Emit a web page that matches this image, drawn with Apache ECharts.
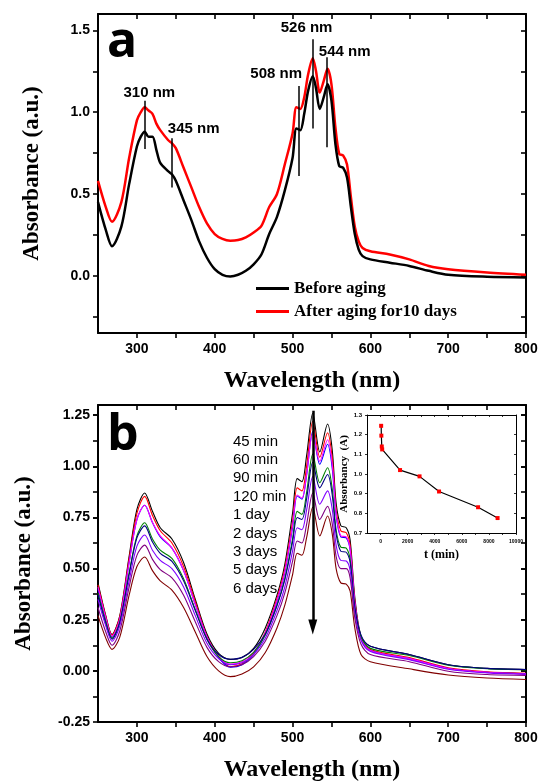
<!DOCTYPE html>
<html>
<head>
<meta charset="utf-8">
<script src="https://cdn.jsdelivr.net/npm/echarts@6/dist/echarts.min.js"></script>
<style>
  html, body { margin: 0; padding: 0; background: #fff; }
  #chart { width: 540px; height: 782px; }
</style>
</head>
<body>
<div id="chart"></div>
<script>
// panel a: spectra before / after aging
const wlA = [250,260,268,280,290,300,305,310,315,320,325,330,340,345,350,360,370,380,390,400,410,420,430,440,450,460,470,480,490,500,505,510,515,520,526,530,535,540,545,550,555,560,565,570,575,580,585,590,600,625,650,675,700,750,800];
const beforeAging = [.45,.28,.18,.30,.56,.79,.85,.88,.85,.85,.77,.69,.64,.62,.58,.46,.34,.21,.11,.04,.006,-.004,.006,.03,.07,.13,.255,.36,.52,.72,.90,.89,.99,1.13,1.22,1.15,1.02,1.09,1.17,1.07,.81,.67,.66,.60,.42,.255,.16,.12,.10,.08,.06,.03,.006,-.006,-.01];
const afterAging = [.58,.42,.33,.45,.72,.95,1.00,1.03,1.01,.99,.93,.89,.83,.81,.78,.66,.54,.42,.32,.255,.225,.214,.218,.235,.265,.305,.42,.50,.68,.87,1.03,1.02,1.09,1.23,1.33,1.255,1.12,1.19,1.265,1.17,.91,.745,.735,.68,.48,.30,.21,.17,.15,.13,.10,.06,.04,.02,.006];

// peak marks in panel a
const peakNm = [310, 345, 508, 526, 544];
const peakTop = [1.07, 0.84, 1.16, 1.445, 1.335];
const peakBottom = [0.775, 0.54, 0.61, 0.90, 0.785];
const peakText = ['310 nm', '345 nm', '508 nm', '526 nm', '544 nm'];
const peakTextNm = [316, 373, 479, 518, 567];
const peakTextVal = [1.12, 0.90, 1.235, 1.515, 1.367];

// panel b: spectra during aging
const wlB = [250,260,268,278,290,300,310,320,330,345,360,375,390,405,420,435,450,465,480,490,500,506,512,518,526,535,545,551,556,562,569,574,580,588,600,650,700,750,800];
const b45min = [.43,.27,.178,.27,.56,.79,.87,.78,.70,.645,.53,.35,.18,.085,.056,.065,.11,.21,.37,.52,.77,.94,.925,1.05,1.26,1.07,1.207,1.08,.82,.71,.70,.64,.36,.17,.12,.08,.03,.012,.007];
const b60min = [.42,.265,.175,.265,.55,.77,.853,.76,.685,.625,.51,.34,.17,.07,.02,.035,.085,.19,.355,.50,.73,.895,.88,1.00,1.22,1.045,1.164,1.04,.79,.685,.675,.615,.345,.16,.105,.065,.015,-.005,-.012];
const b90min = [.40,.25,.165,.25,.53,.74,.81,.725,.655,.60,.49,.325,.165,.065,.018,.03,.08,.18,.34,.48,.70,.855,.84,.955,1.17,1.01,1.108,.99,.76,.655,.65,.59,.33,.155,.10,.06,.012,-.007,-.014];
const b120min = [.41,.26,.17,.255,.53,.74,.81,.725,.66,.60,.49,.325,.165,.07,.033,.045,.09,.185,.345,.485,.71,.86,.845,.96,1.16,1.025,1.13,1.01,.77,.66,.655,.595,.335,.16,.10,.06,.012,-.007,-.015];
const b1day = [.38,.24,.16,.24,.48,.66,.724,.645,.59,.55,.45,.30,.155,.07,.04,.05,.09,.175,.32,.45,.645,.78,.765,.87,1.06,.92,.993,.89,.69,.605,.60,.545,.31,.165,.11,.075,.028,.01,.005];
const b2days = [.37,.23,.155,.235,.47,.65,.709,.63,.575,.535,.44,.295,.155,.08,.057,.066,.105,.18,.32,.445,.63,.75,.74,.84,1.02,.895,.96,.86,.67,.585,.58,.53,.31,.175,.12,.08,.03,.012,.007];
const b3days = [.35,.22,.145,.22,.44,.61,.664,.59,.54,.50,.41,.27,.135,.06,.03,.04,.08,.16,.295,.41,.585,.70,.69,.785,.95,.815,.88,.79,.615,.54,.537,.49,.28,.15,.095,.055,.008,-.01,-.017];
const b5days = [.31,.19,.125,.195,.41,.565,.615,.545,.495,.455,.37,.24,.115,.045,.02,.03,.07,.145,.27,.38,.535,.635,.625,.715,.87,.74,.805,.72,.56,.50,.50,.455,.26,.13,.08,.045,-.002,-.018,-.022];
const b6days = [.27,.16,.105,.165,.37,.51,.557,.49,.44,.395,.31,.19,.07,.00,-.028,-.015,.02,.09,.21,.32,.47,.575,.565,.65,.80,.66,.757,.67,.50,.43,.424,.39,.21,.08,.045,.01,-.02,-.035,-.042];
const namesB = ['45 min', '60 min', '90 min', '120 min', '1 day', '2 days', '3 days', '5 days', '6 days'];
const colorsB = ['#000000', '#ff0000', '#0000ff', '#ff00ff', '#008000', '#000080', '#8000ff', '#800080', '#800000'];

// inset: absorbancy vs time
const insetTime = [45, 60, 90, 120, 1440, 2880, 4320, 7200, 8640];
const insetAbs = [1.245, 1.195, 1.14, 1.125, 1.02, 0.988, 0.911, 0.831, 0.776];

// ticks
const xTicks = [300,350,400,450,500,550,600,650,700,750,800];
const xLabels = [300,400,500,600,700,800];
const yTicksA = [-0.25,0,0.25,0.5,0.75,1,1.25,1.5];
const yLabelsA = [0,0.5,1,1.5];
const yTicksB = [-0.125,0,0.125,0.25,0.375,0.5,0.625,0.75,0.875,1,1.125,1.25];
const yLabelsB = [-0.25,0,0.25,0.5,0.75,1,1.25];
const insetXTicks = [0,1000,2000,3000,4000,5000,6000,7000,8000,9000,10000];
const insetXLabels = [0,2000,4000,6000,8000,10000];
const insetYTicks = [0.7,0.8,0.9,1.0,1.1,1.2,1.3];

const sans = '"Liberation Sans", Arial, sans-serif';
const serif = '"Liberation Serif", "Times New Roman", serif';

function zip(xs, ys) {
    return xs.map((x, i) => [x, ys[i]]);
}

function xPair(grid, min, max, ticks, labels, tickLen, lw, labelFont, name, nameGap, nameSize) {
    return [
        {
            type: 'value', gridIndex: grid, min: min, max: max, position: 'bottom',
            axisLine: { onZero: false, lineStyle: { color: '#000', width: lw } },
            axisTick: { inside: false, length: tickLen, lineStyle: { color: '#000', width: lw * 0.8 }, customValues: ticks },
            axisLabel: { customValues: labels, formatter: v => String(v), color: '#000', fontFamily: sans, fontWeight: 'bold', fontSize: labelFont, margin: tickLen + 4 },
            splitLine: { show: false },
            name: name, nameLocation: 'middle', nameGap: nameGap,
            nameTextStyle: { fontFamily: serif, fontWeight: 'bold', fontSize: nameSize, color: '#000' }
        },
        {
            type: 'value', gridIndex: grid, min: min, max: max, position: 'top',
            axisLine: { onZero: false, lineStyle: { color: '#000', width: lw } },
            axisTick: { inside: true, length: tickLen, lineStyle: { color: '#000', width: lw * 0.8 }, customValues: ticks },
            axisLabel: { show: false }, splitLine: { show: false }
        }
    ];
}

function yPair(grid, min, max, ticks, labels, digits, tickLen, lw, labelFont, name, nameGap, nameSize) {
    return [
        {
            type: 'value', gridIndex: grid, min: min, max: max, position: 'left',
            axisLine: { onZero: false, lineStyle: { color: '#000', width: lw } },
            axisTick: { inside: false, length: tickLen, lineStyle: { color: '#000', width: lw * 0.8 }, customValues: ticks },
            axisLabel: { customValues: labels, formatter: v => v.toFixed(digits), color: '#000', fontFamily: sans, fontWeight: 'bold', fontSize: labelFont, margin: tickLen + 3 },
            splitLine: { show: false },
            name: name, nameLocation: 'middle', nameGap: nameGap,
            nameTextStyle: { fontFamily: serif, fontWeight: 'bold', fontSize: nameSize, color: '#000' }
        },
        {
            type: 'value', gridIndex: grid, min: min, max: max, position: 'right',
            axisLine: { onZero: false, lineStyle: { color: '#000', width: lw } },
            axisTick: { inside: true, length: tickLen, lineStyle: { color: '#000', width: lw * 0.8 }, customValues: ticks },
            axisLabel: { show: false }, splitLine: { show: false }
        }
    ];
}

const chart = echarts.init(document.getElementById('chart'));

const seriesB = [b45min, b60min, b90min, b120min, b1day, b2days, b3days, b5days, b6days].map((vals, i) => ({
    name: namesB[i],
    type: 'line',
    xAxisIndex: 2, yAxisIndex: 2,
    data: zip(wlB, vals),
    showSymbol: false,
    smooth: 0.3,
    lineStyle: { color: colorsB[i], width: 1.1 },
    itemStyle: { color: colorsB[i] },
    z: 2
}));

// downward arrow at 526 nm
seriesB[8].markLine = {
    silent: true,
    symbol: ['none', 'triangle'],
    symbolSize: [9, 15],
    label: { show: false },
    lineStyle: { color: '#000', width: 2.5, type: 'solid' },
    data: [[{ coord: [526, 1.272] }, { coord: [526, 0.215] }]]
};

const option = {
    animation: false,
    backgroundColor: '#fff',
    grid: [
        { left: 98, top: 14, width: 428, height: 319, outerBoundsMode: 'none' },
        { left: 98, top: 405, width: 428, height: 317, outerBoundsMode: 'none' },
        { left: 367, top: 415, width: 149, height: 118, outerBoundsMode: 'none' }
    ],
    xAxis: [
        ...xPair(0, 250, 800, xTicks, xLabels, 5, 2, 14, 'Wavelength (nm)', 36, 24),
        ...xPair(1, 250, 800, xTicks, xLabels, 5, 2, 14, 'Wavelength (nm)', 36, 24),
        ...xPair(2, -1000, 10000, insetXTicks, insetXLabels, 2, 1, 5, 't (min)', 16, 12)
    ],
    yAxis: [
        ...yPair(0, -0.35, 1.6, yTicksA, yLabelsA, 1, 5, 2, 14, 'Absorbance (a.u.)', 54, 23),
        ...yPair(1, -0.25, 1.3, yTicksB.concat(yLabelsB), yLabelsB, 2, 5, 2, 14, 'Absorbance (a.u.)', 62, 23),
        ...yPair(2, 0.7, 1.3, insetYTicks, insetYTicks, 1, 2, 1, 6, 'Absorbancy  (A)', 8, 11)
    ],
    legend: [
        {
            data: ['Before aging', 'After aging for10 days'],
            orient: 'vertical', left: 251, top: 275,
            icon: 'rect', itemWidth: 33, itemHeight: 3, itemGap: 6,
            selectedMode: false,
            textStyle: { fontFamily: serif, fontWeight: 'bold', fontSize: 17, color: '#000' }
        },
        {
            data: namesB,
            orient: 'vertical', left: 223, top: 429,
            icon: 'none', itemWidth: 0, itemHeight: 10, itemGap: 3.4,
            selectedMode: false,
            textStyle: { fontFamily: sans, fontSize: 15, color: '#000' }
        }
    ],
    graphic: [
        { type: 'text', left: 107, top: 18, style: { text: 'a', font: 'bold 50px "Open Sans"', fill: '#000' } },
        { type: 'text', left: 107, top: 411, style: { text: 'b', font: 'bold 50px "Open Sans"', fill: '#000' } }
    ],
    series: [
        {
            name: 'Before aging', type: 'line', xAxisIndex: 0, yAxisIndex: 0,
            data: zip(wlA, beforeAging), showSymbol: false, smooth: 0.3,
            lineStyle: { color: '#000', width: 2.5 }, itemStyle: { color: '#000' }, z: 3,
            markLine: {
                silent: true, symbol: 'none', label: { show: false },
                lineStyle: { color: '#000', width: 1.5, type: 'solid' },
                data: peakNm.map((nm, i) => [{ coord: [nm, peakTop[i]] }, { coord: [nm, peakBottom[i]] }])
            }
        },
        {
            name: 'After aging for10 days', type: 'line', xAxisIndex: 0, yAxisIndex: 0,
            data: zip(wlA, afterAging), showSymbol: false, smooth: 0.3,
            lineStyle: { color: '#ff0000', width: 2.5 }, itemStyle: { color: '#ff0000' }, z: 2,
            markPoint: {
                silent: true, symbol: 'rect', symbolSize: 1,
                itemStyle: { color: 'rgba(0,0,0,0)' },
                label: {
                    show: true, position: 'inside', formatter: p => p.name,
                    color: '#000', fontFamily: sans, fontWeight: 'bold', fontSize: 15
                },
                data: peakText.map((t, i) => ({ name: t, coord: [peakTextNm[i], peakTextVal[i]] }))
            }
        },
        ...seriesB,
        {
            name: 'inset', type: 'line', xAxisIndex: 4, yAxisIndex: 4,
            data: zip(insetTime, insetAbs),
            symbol: 'rect', symbolSize: 4, showSymbol: true,
            lineStyle: { color: '#000', width: 1.2 },
            itemStyle: { color: '#ff0000' }
        }
    ]
};

chart.setOption(option);
</script>
</body>
</html>
